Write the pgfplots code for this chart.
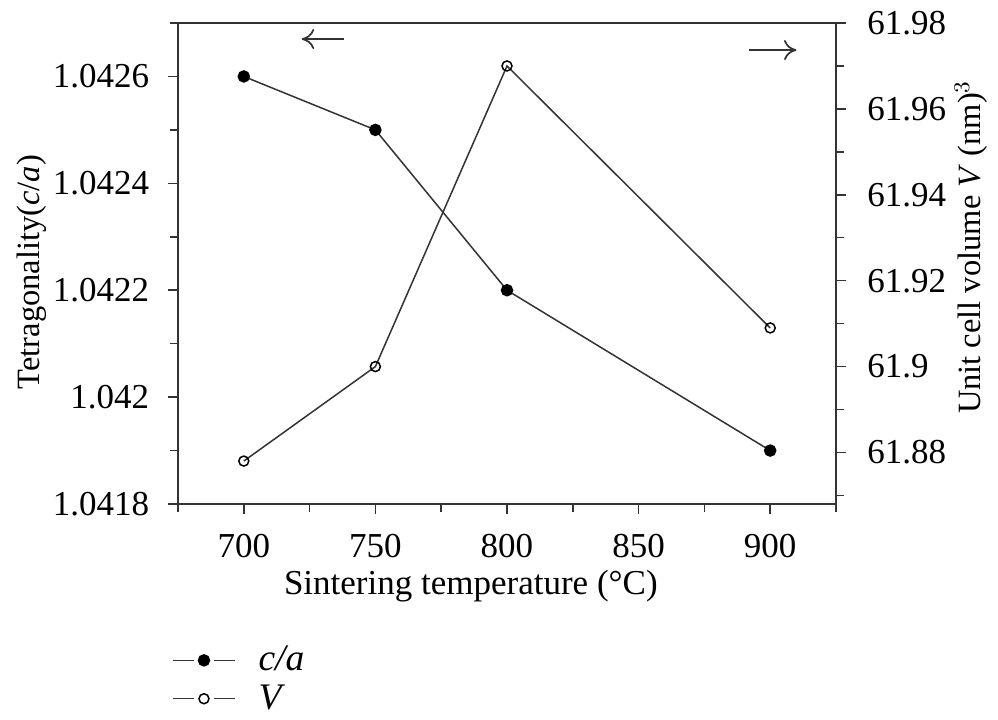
\documentclass[border=0pt]{standalone}
\usepackage{fontspec}
\setmainfont{Liberation Serif}
\usepackage{pgfplots}
\pgfplotsset{compat=1.18}
\usetikzlibrary{calc,arrows.meta}

\definecolor{ink}{HTML}{333333}

\pgfplotsset{
  twinbase/.style={
    scale only axis,
    width=263.2pt, height=192.4pt,
    xmin=675, xmax=925,
    axis line style={ink, line width=0.8pt},
    tick style={ink, line width=0.6pt},
    tick align=outside,
    major tick length=4pt,
    minor tick length=3pt,
    font=\fontsize{14}{16}\selectfont,
    /pgf/number format/assume math mode=true,
    /pgf/number format/precision=4,
    scaled y ticks=false,
  },
}

\begin{document}
\begin{tikzpicture}
\begin{axis}[
  twinbase,
  xtick pos=bottom,
  ytick pos=left,
  xtick={700,750,800,850,900},
  minor xtick={675,725,775,825,875,925},
  ymin=1.0418, ymax=1.0427,
  ytick={1.0418,1.042,1.0422,1.0424,1.0426},
  minor ytick={1.0419,1.0421,1.0423,1.0425,1.0427},
  yticklabels={1.0418,1.042,1.0422,1.0424,1.0426},
  yticklabel style={xshift=-4pt},
  xticklabel style={yshift=-4.5pt},
  xlabel={Sintering temperature (\textdegree C)},
  ylabel={Tetragonality(\textit{c}/\textit{a})},
  every axis x label/.style={at={(axis description cs:0.445,-0.17)}, anchor=center},
  every axis y label/.style={at={(axis description cs:-0.222,0.482)}, rotate=90, anchor=center,
    font=\fontsize{13}{15}\selectfont},
  legend style={at={(axis description cs:-0.010,-0.284)}, anchor=north west,
    draw=none, fill=none, font=\fontsize{15}{17}\selectfont\itshape,
    inner sep=0pt, row sep=0pt},
  legend cell align=left,
  legend image code/.code={
    \draw[#1] (0cm,0cm) -- (0.3cm,0cm);
    \draw[#1] (0.58cm,0cm) -- (0.88cm,0cm);
    \draw[#1, only marks] plot coordinates {(0.44cm,0cm)};},
]
\addplot[ink, line width=0.6pt, mark=*, mark size=2.2pt,
  mark options={fill=black, draw=black}] coordinates {
  (700,1.0426) (750,1.0425) (800,1.0422) (900,1.0419)
};
\addlegendentry{\hspace{7pt}c/a}
\addlegendimage{ink, line width=0.6pt, mark=o, mark size=2pt,
  mark options={draw=black, fill=white}}
\addlegendentry{\hspace{7pt}V}
\draw[-{To[length=5pt,width=8pt]}, ink, line width=0.7pt]
  (axis cs:738,1.04267) -- (axis cs:722,1.04267);
\end{axis}

\begin{axis}[
  twinbase,
  axis y line*=right,
  axis x line=none,
  ymin=61.868, ymax=61.98,
  ytick={61.88,61.9,61.92,61.94,61.96,61.98},
  minor ytick={61.87,61.89,61.91,61.93,61.95,61.97},
  yticklabels={61.88,61.9,61.92,61.94,61.96,61.98},
  yticklabel style={xshift=5pt},
  ylabel={Unit cell volume \textit{V} (nm)$^3$},
  every axis y label/.style={at={(axis description cs:1.205,0.534)}, rotate=90, anchor=center,
    font=\fontsize{13}{15}\selectfont},
]
\addplot[ink, line width=0.6pt, mark=o, mark size=2pt,
  mark options={draw=black, fill=white}] coordinates {
  (700,61.878) (750,61.90) (800,61.97) (900,61.909)
};
\draw[-{To[length=5pt,width=8pt]}, ink, line width=0.7pt]
  (axis cs:892,61.9737) -- (axis cs:910,61.9737);
\end{axis}

\pgfresetboundingbox
\path ($(current axis.south west)+(-71.2pt,-86pt)$) rectangle
      ($(current axis.north east)+(64.8pt,9.2pt)$);
\end{tikzpicture}
\end{document}
